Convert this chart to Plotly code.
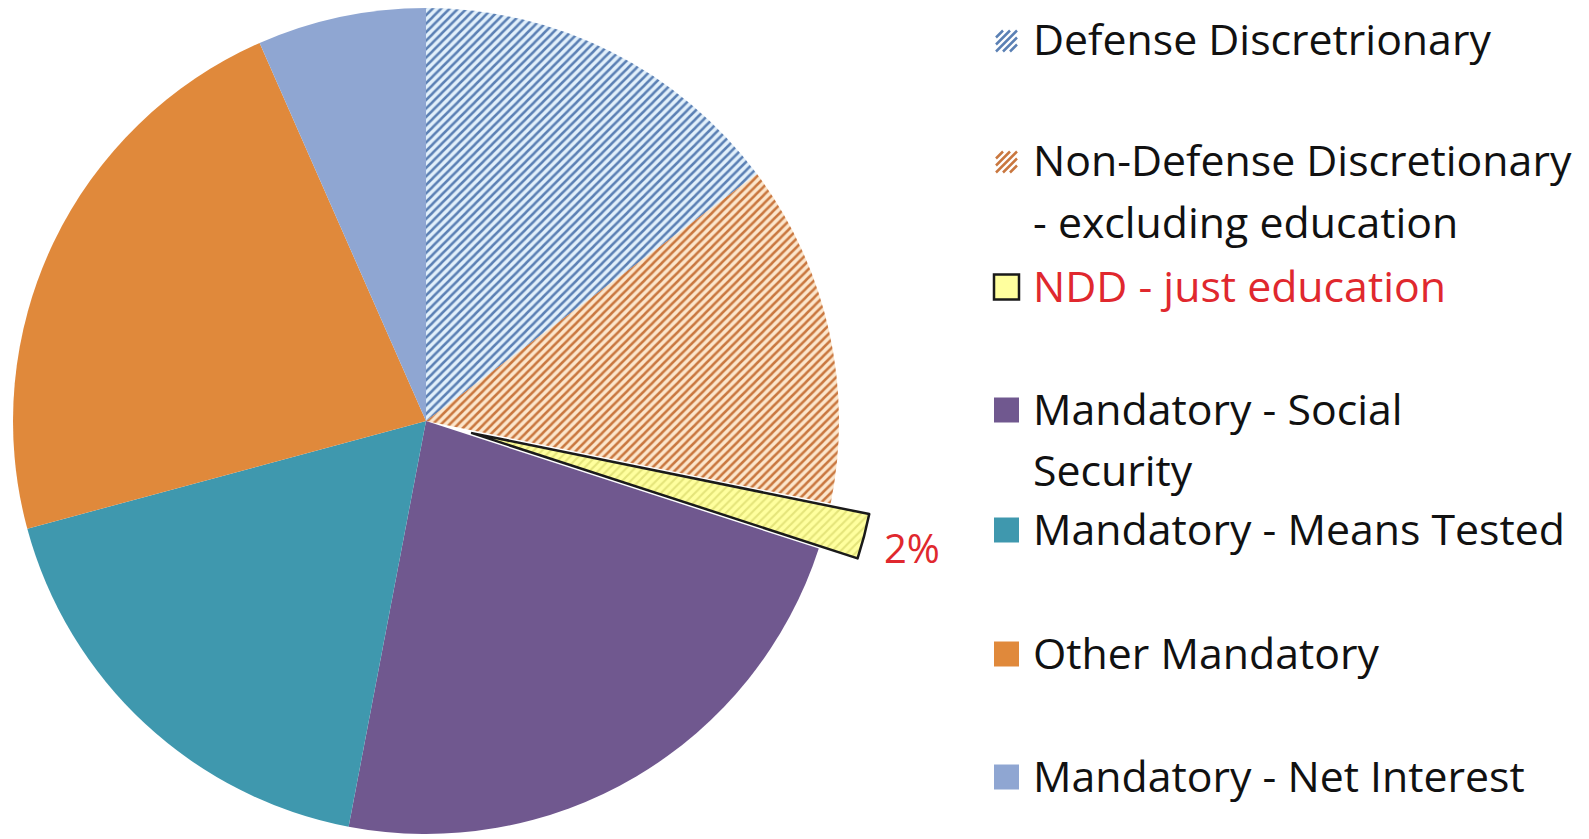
import math
import plotly.graph_objects as go

# ---------------- data ----------------
labels = [
    "Defense Discretrionary",
    "Non-Defense Discretionary\n- excluding education",
    "NDD - just education",
    "Mandatory - Social\nSecurity",
    "Mandatory - Means Tested",
    "Other Mandatory",
    "Mandatory - Net Interest",
]
values = [14.8, 13.4, 1.8, 23.0, 17.8, 22.6, 6.6]
highlight = "NDD - just education"

# ---------------- styles ----------------
W, H = 1589, 839
solid = {
    "Mandatory - Social\nSecurity": "#70588f",
    "Mandatory - Means Tested": "#3f98ae",
    "Other Mandatory": "#e0893b",
    "Mandatory - Net Interest": "#8fa6d2",
}
hatch = {
    "Defense Discretrionary": ("#5b80b4", "#e2f0fb"),
    "Non-Defense Discretionary\n- excluding education": ("#c9773f", "#fce6cc"),
    "NDD - just education": ("#e4e47a", "#ffff9e"),
}
red = "#e0282e"
FONT = "Open Sans"

cx, cy, R = 426, 421, 413          # pie centre / radius in pixels
pull_px = 40                       # how far the highlighted slice is pulled


def px2x(px):
    return px / W


def px2y(py):
    return 1 - py / H


hi = labels.index(highlight)
mid_frac = (sum(values[:hi]) + values[hi] / 2) / sum(values)
mid_ang = 2 * math.pi * mid_frac
ux, uy = math.sin(mid_ang), -math.cos(mid_ang)   # bisector direction (pixels, y down)

# the pulled slice's pie must stay inside the figure: trade a few px of radius
# for extra displacement along the bisector so that the outer corners stay put
k = 0.0
if uy > 0:
    need = cy + R + pull_px * uy - (H - 0.5)
    if need > 0:
        k = need / (1 - uy)
R2 = R - k
shift = pull_px + k
dx, dy = shift * ux, shift * uy


def colors_for(show_only=None):
    cols, fg, bg, shp = [], [], [], []
    clear = "rgba(0,0,0,0)"
    for lab in labels:
        hidden = (show_only is not None and lab != show_only) or (show_only is None and lab == highlight)
        if hidden:
            cols.append(clear); fg.append(clear); bg.append(clear); shp.append("")
        elif lab in hatch:
            f, b = hatch[lab]
            cols.append(b); fg.append(f); bg.append(b); shp.append("/")
        else:
            cols.append(solid[lab]); fg.append(solid[lab]); bg.append(solid[lab]); shp.append("")
    return cols, fg, bg, shp


fig = go.Figure()

# main pie (highlighted slice left empty)
cols, fg, bg, shp = colors_for()
fig.add_trace(go.Pie(
    labels=labels, values=values, sort=False, direction="clockwise", rotation=0,
    textinfo="none", hoverinfo="label+percent", showlegend=False,
    marker=dict(colors=cols, line=dict(width=0),
                pattern=dict(shape=shp, fgcolor=fg, bgcolor=bg, size=6, solidity=0.42,
                             fillmode="replace")),
    domain=dict(x=[px2x(cx - R), px2x(cx + R)], y=[px2y(cy + R), px2y(cy - R)]),
))

# pulled-out slice drawn as its own pie, displaced along its bisector
cols2, fg2, bg2, shp2 = colors_for(highlight)
fig.add_trace(go.Pie(
    labels=labels, values=values, sort=False, direction="clockwise", rotation=0,
    textinfo="none", hoverinfo="label+percent", showlegend=False,
    marker=dict(colors=cols2,
                line=dict(width=[2.5 if l == highlight else 0 for l in labels],
                          color=["#1a1a1a" if l == highlight else "rgba(0,0,0,0)" for l in labels]),
                pattern=dict(shape=shp2, fgcolor=fg2, bgcolor=bg2, size=6, solidity=0.35,
                             fillmode="replace")),
    domain=dict(x=[px2x(cx + dx - R2), px2x(cx + dx + R2)],
                y=[max(0.0, px2y(cy + dy + R2)), min(1.0, px2y(cy + dy - R2))]),
))

annotations = []
shapes = []

# percentage label for the pulled slice
pct = values[hi] / sum(values) * 100
annotations.append(dict(
    x=px2x(882), y=px2y(547), xref="paper", yref="paper", xanchor="left", yanchor="middle",
    text=f"{pct:.0f}%", showarrow=False, font=dict(family=FONT, size=40, color=red)))

# ---------------- manual legend ----------------
legend_y = [41, 162, 287, 410, 530, 654, 777]
line_gap = 61
mk_x0, mk = 994, 25
txt_x = 1031
for lab, ly in zip(labels, legend_y):
    lines = lab.split("\n")
    color = red if lab == highlight else "#111111"
    for j, ln in enumerate(lines):
        annotations.append(dict(
            x=px2x(txt_x), y=px2y(ly - 2 + j * line_gap), xref="paper", yref="paper",
            xanchor="left", yanchor="middle", text=ln, showarrow=False,
            font=dict(family=FONT, size=42.8, color=color)))
    x0, x1 = px2x(mk_x0), px2x(mk_x0 + mk)
    y0, y1 = px2y(ly + mk / 2), px2y(ly - mk / 2)
    if lab == highlight:
        f, b = hatch[lab]
        shapes.append(dict(type="rect", xref="paper", yref="paper", x0=x0, x1=x1, y0=y0, y1=y1,
                           fillcolor=b, line=dict(color="#1a1a1a", width=2.5)))
    elif lab in hatch:
        f, b = hatch[lab]
        for s in range(-2, 3):
            off = s * 7
            ax0, ay0 = mk_x0 + max(0, off), ly + mk / 2 - max(0, -off)
            ax1, ay1 = mk_x0 + mk + min(0, off), ly - mk / 2 - min(0, -off)
            shapes.append(dict(type="line", xref="paper", yref="paper",
                               x0=px2x(ax0 + 2), y0=px2y(ay0 - 2), x1=px2x(ax1 - 2), y1=px2y(ay1 + 2),
                               line=dict(color=f, width=2.5)))
    else:
        shapes.append(dict(type="rect", xref="paper", yref="paper", x0=x0, x1=x1, y0=y0, y1=y1,
                           fillcolor=solid[lab], line=dict(width=0)))

fig.update_layout(
    width=W, height=H, margin=dict(l=0, r=0, t=0, b=0),
    paper_bgcolor="white", plot_bgcolor="white",
    annotations=annotations, shapes=shapes, showlegend=False,
    font=dict(family=FONT),
)

fig.write_html("out.html", config={"displayModeBar": False},
               post_script="document.body.style.margin='0';document.body.style.overflow='hidden';")
